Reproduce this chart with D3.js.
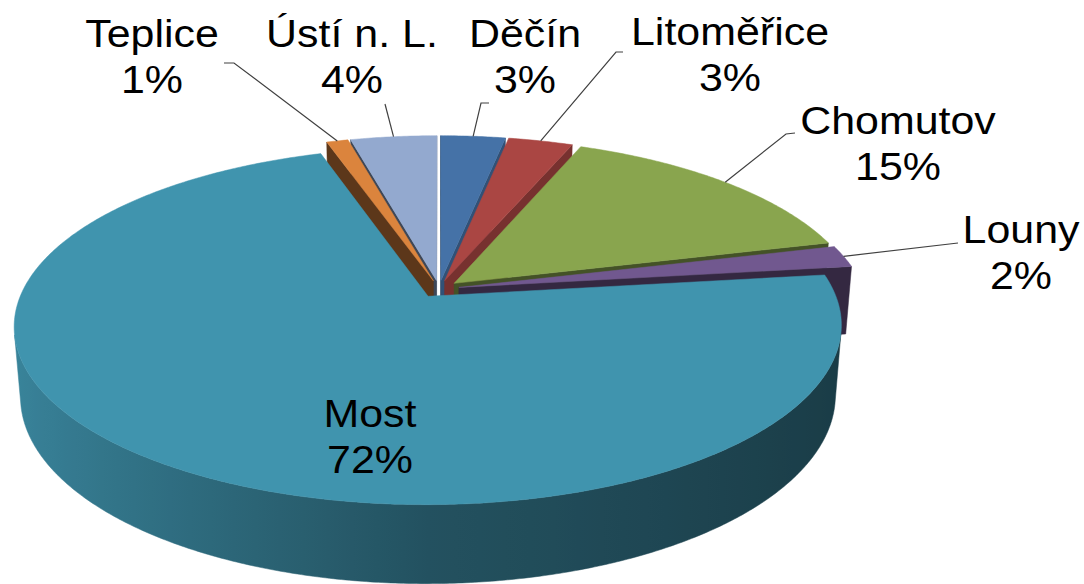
<!DOCTYPE html>
<html>
<head>
<meta charset="utf-8">
<script src="https://cdn.jsdelivr.net/npm/d3@7"></script>
<style>
  body { margin: 0; background: #fff; }
  svg { display: block; }
  text { font-family: "Liberation Sans", Arial, sans-serif; font-size: 38px; fill: #000; }
</style>
</head>
<body>
<div id="chart"></div>
<script>
// Data
const categories = ["Děčín", "Litoměřice", "Chomutov", "Louny", "Most", "Teplice", "Ústí n. L."];
const shares = [3, 3, 15, 2, 72, 1, 4];
const percentLabels = ["3%", "3%", "15%", "2%", "72%", "1%", "4%"];
const sliceColors = ["#4572a7", "#aa4643", "#89a54e", "#71588f", "#4094ae", "#db843d", "#93a9cf"];

// Label layout (name baseline, leader hook points), same order as categories
const labelLayout = [
  { x: 525, y: 47, hook: [[489, 103], [481, 103]] },
  { x: 730, y: 45, hook: [[623, 52], [616, 52]] },
  { x: 898, y: 134, hook: [[795, 133], [786, 134]] },
  { x: 1021, y: 243, hook: [[958, 243]] },
  { x: 370, y: 427, hook: null },
  { x: 152, y: 47, hook: [[224, 63], [234, 63]] },
  { x: 352, y: 47, hook: [[385, 104]] }
];

const W = 1084, H = 584;
const svg = d3.select("#chart").append("svg").attr("width", W).attr("height", H);
const defs = svg.append("defs");

// 3D view settings
const view = { cx: 439, cy: 289, K: 405, tilt: Math.asin(0.423), dist: 5.49, thick: 0.19, explode: 0.05 };
const sinT = Math.sin(view.tilt), cosT = Math.cos(view.tilt);
const camZ = -view.dist * cosT;

function project(X, Z, h) {
  const up = Z * sinT + h * cosT;
  const depth = Z * cosT - h * sinT;
  const k = view.dist / (view.dist + depth);
  return [view.cx + view.K * X * k, view.cy - view.K * up * k, depth];
}

function shade(color, b) {
  const c = d3.rgb(color);
  return d3.rgb(c.r * b, c.g * b, c.b * b).formatHex();
}
// outer wall: lighter on the left, dark on the right
function wallShade(a) {
  const nx = Math.sin(a);
  return nx < 0 ? 0.55 - 0.35 * nx : 0.55 - 0.15 * nx;
}
function cutShade(nx) { return 0.42 + 0.3 * Math.max(0, nx); }

const toPath = pts => d3.line()(pts.map(p => [p[0], p[1]])) + "Z";

const arcs = d3.pie().sort(null).value(d => d)(shares);
const sides = [], tops = [], rimMid = [];

arcs.forEach((p, i) => {
  const a0 = p.startAngle, a1 = p.endAngle, mid = (a0 + a1) / 2;
  const ox = view.explode * Math.sin(mid), oz = view.explode * Math.cos(mid);
  const rim = (a, h) => project(ox + Math.sin(a), oz + Math.cos(a), h);
  const apexT = project(ox, oz, 0), apexB = project(ox, oz, -view.thick);
  const n = Math.max(2, Math.ceil((a1 - a0) / (Math.PI / 360)));
  const angles = d3.range(n + 1).map(k => a0 + (a1 - a0) * k / n);

  rimMid.push(rim(mid, 0));
  tops.push({ pts: [apexT, ...angles.map(a => rim(a, 0))], fill: sliceColors[i] });

  // radial cut faces
  [[a0, -1], [a1, 1]].forEach(([a, sgn]) => {
    const nx = sgn * Math.cos(a), nz = -sgn * Math.sin(a);
    const px = ox + 0.5 * Math.sin(a), pz = oz + 0.5 * Math.cos(a);
    if ((0 - px) * nx + (camZ - pz) * nz <= 0) return;
    const pts = [apexT, rim(a, 0), rim(a, -view.thick), apexB];
    sides.push({ pts, fill: shade(sliceColors[i], cutShade(nx)), depth: d3.mean(pts, q => q[2]) });
  });

  // outer wall, only the parts facing the camera
  const visible = a => -ox * Math.sin(a) + (camZ - oz) * Math.cos(a) - 1 > 0;
  let runs = [], cur = [];
  angles.forEach(a => {
    if (visible(a)) cur.push(a);
    else { if (cur.length > 1) runs.push(cur); cur = []; }
  });
  if (cur.length > 1) runs.push(cur);

  runs.forEach((run, r) => {
    const topPts = run.map(a => rim(a, 0));
    const botPts = run.map(a => rim(a, -view.thick));
    const pts = topPts.concat(botPts.slice().reverse());
    const xs = pts.map(q => q[0]);
    const x1 = d3.min(xs), x2 = d3.max(xs);
    const id = "wall-" + i + "-" + r;
    const stops = run.filter((a, k) => k % 6 === 0 || k === run.length - 1)
      .map(a => ({ off: (rim(a, 0)[0] - x1) / (x2 - x1 || 1), col: shade(sliceColors[i], wallShade(a)) }))
      .sort((u, v) => u.off - v.off);
    const g = defs.append("linearGradient").attr("id", id)
      .attr("gradientUnits", "userSpaceOnUse")
      .attr("x1", x1).attr("x2", x2).attr("y1", 0).attr("y2", 0);
    stops.forEach(s => g.append("stop").attr("offset", Math.max(0, Math.min(1, s.off))).attr("stop-color", s.col));
    sides.push({ pts, fill: "url(#" + id + ")", depth: d3.mean(pts, q => q[2]) });
  });
});

// side faces far to near, then the top faces
sides.sort((u, v) => v.depth - u.depth);
const pieG = svg.append("g");
pieG.selectAll("path.side").data(sides).join("path")
  .attr("class", "side")
  .attr("d", d => toPath(d.pts))
  .attr("fill", d => d.fill)
  .attr("stroke", d => d.fill)
  .attr("stroke-width", 0.5);
pieG.selectAll("path.top").data(tops).join("path")
  .attr("class", "top")
  .attr("d", d => toPath(d.pts))
  .attr("fill", d => d.fill)
  .attr("stroke", d => d.fill)
  .attr("stroke-width", 0.5);

// leader lines
const leaderG = svg.append("g");
labelLayout.forEach((l, i) => {
  if (!l.hook) return;
  const pts = l.hook.concat([[rimMid[i][0], rimMid[i][1]]]);
  leaderG.append("path")
    .attr("d", d3.line()(pts))
    .attr("fill", "none")
    .attr("stroke", "#404040")
    .attr("stroke-width", 1.2);
});

// labels
const labelG = svg.append("g");
labelLayout.forEach((l, i) => {
  const g = labelG.append("g").attr("transform", `translate(${l.x},${l.y}) scale(1.13,1)`);
  g.append("text").attr("text-anchor", "middle").attr("y", 0).text(categories[i]);
  g.append("text").attr("text-anchor", "middle").attr("y", 46.5).text(percentLabels[i]);
});
</script>
</body>
</html>
